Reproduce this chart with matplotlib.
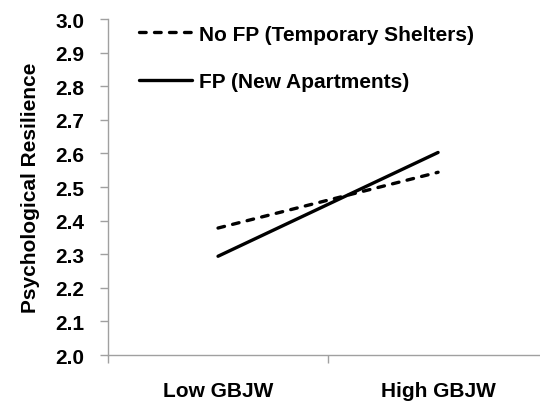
import matplotlib
matplotlib.use("Agg")
import matplotlib.pyplot as plt

# data
groups = ["Low GBJW", "High GBJW"]
no_fp = [2.378, 2.544]   # No FP (Temporary Shelters), dashed
fp = [2.294, 2.603]      # FP (New Apartments), solid
yticks = [2.0, 2.1, 2.2, 2.3, 2.4, 2.5, 2.6, 2.7, 2.8, 2.9, 3.0]

plt.rcParams['font.family'] = ['Liberation Sans', 'DejaVu Sans']
plt.rcParams['font.weight'] = 'bold'

fig = plt.figure(figsize=(5.4, 4.02), dpi=100)
ax = fig.add_axes([0.2, 0.1144, 0.815, 0.8356])

x = list(range(len(groups)))
ax.plot(x, no_fp, color='black', lw=2.4, linestyle=(0, (2.0, 2.5)),
        dash_capstyle='round', label='No FP (Temporary Shelters)')
ax.plot(x, fp, color='black', lw=2.4, solid_capstyle='round',
        label='FP (New Apartments)')

ax.set_xlim(-0.5, 1.5)
ax.set_ylim(2.0, 3.0)
ax.set_yticks(yticks)
ax.set_yticklabels([f"{v:.1f}" for v in yticks], fontsize=15, fontweight='bold')

ax.set_xticks([-0.5, 0.5, 1.5])
ax.set_xticklabels([])
ax.set_xticks(x, minor=True)
ax.set_xticklabels(groups, minor=True, fontsize=15, fontweight='bold')
ax.tick_params(axis='x', which='minor', length=0, pad=19)
ax.tick_params(axis='both', which='major', direction='out', length=6,
               color='#a0a0a0', width=1)
ax.tick_params(axis='y', pad=11)

for s in ['top', 'right']:
    ax.spines[s].set_visible(False)
for s in ['left', 'bottom']:
    ax.spines[s].set_color('#a0a0a0')
    ax.spines[s].set_linewidth(1)

ax.set_ylabel('Psychological Resilience', fontsize=15, fontweight='bold', labelpad=11)

ax.legend(loc='upper left', bbox_to_anchor=(0.028, 1.039), frameon=False,
          handlelength=2.55, handletextpad=0.34, labelspacing=1.36,
          prop={'weight': 'bold', 'size': 15})

fig.savefig('out.png', dpi=100)
